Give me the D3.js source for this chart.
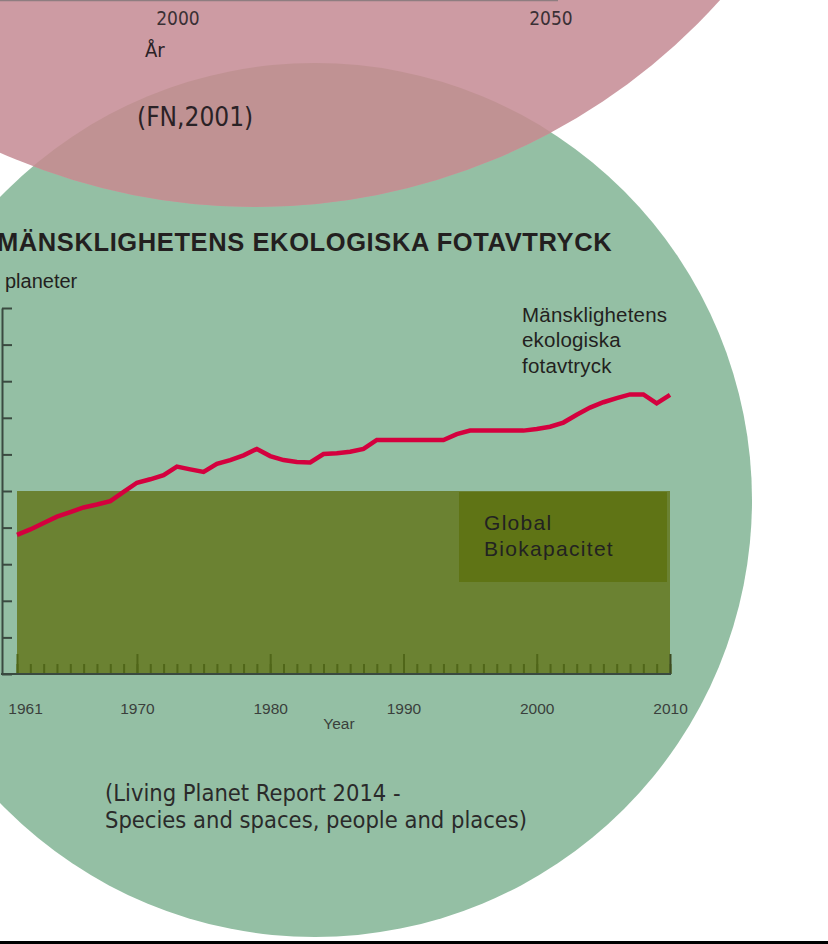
<!DOCTYPE html>
<html>
<head>
<meta charset="utf-8">
<script src="https://cdn.jsdelivr.net/npm/d3@7"></script>
<style>
  body { margin:0; background:#fff; }
  svg { display:block; }
</style>
</head>
<body>
<svg></svg>
<script>
var years = [1961,1962,1963,1964,1965,1966,1967,1968,1969,1970,
             1971,1972,1973,1974,1975,1976,1977,1978,1979,1980,
             1981,1982,1983,1984,1985,1986,1987,1988,1989,1990,
             1991,1992,1993,1994,1995,1996,1997,1998,1999,2000,
             2001,2002,2003,2004,2005,2006,2007,2008,2009,2010];
// antal planeter (ekologiskt fotavtryck)
var footprint = [0.76,0.79,0.825,0.86,0.885,0.91,0.926,0.945,0.995,1.045,
                 1.064,1.086,1.133,1.118,1.104,1.148,1.169,1.195,1.23,1.191,
                 1.169,1.158,1.156,1.202,1.206,1.215,1.23,1.279,1.279,1.279,
                 1.279,1.279,1.279,1.311,1.33,1.33,1.33,1.33,1.33,1.339,
                 1.351,1.374,1.417,1.456,1.485,1.508,1.528,1.528,1.479,1.525];
var biocapacity = 1;
var yTicks = [0,0.2,0.4,0.6,0.8,1,1.2,1.4,1.6,1.8,2];
var xLabels = [1961,1970,1980,1990,2000,2010];
var topLabels = ["2000","2050"];

var screen = {width:828, height:944};

var svg = d3.select('svg')
            .attr('width',screen.width)
            .attr('height',screen.height);

// cirklar i bakgrunden
var green = {cx:315, cy:500, r:437};
var pink = {cx:255, cy:-419, r:626};

svg.append('circle')
   .attr('cx',green.cx).attr('cy',green.cy).attr('r',green.r)
   .attr('fill','#94bfa4');
svg.append('circle')
   .attr('cx',pink.cx).attr('cy',pink.cy).attr('r',pink.r)
   .attr('fill','#cd9ba3');

var defs = svg.append('defs');
defs.append('clipPath').attr('id','pinkClip')
    .append('circle')
    .attr('cx',pink.cx).attr('cy',pink.cy).attr('r',pink.r);
svg.append('circle')
   .attr('cx',green.cx).attr('cy',green.cy).attr('r',green.r)
   .attr('clip-path','url(#pinkClip)')
   .attr('fill','#c09293');

// rester av diagrammet ovanfor
svg.append('line')
   .attr('x1',0).attr('x2',558).attr('y1',0.5).attr('y2',0.5)
   .attr('stroke','#8e7d80').attr('stroke-width',1.5);

var narrow = "'Liberation Sans Narrow','DejaVu Sans Condensed',sans-serif";
var sans = "'Liberation Sans', Arial, sans-serif";
svg.selectAll('.toplabel')
   .data(topLabels)
   .enter()
   .append('text')
   .attr('x',function(d,i){ return [178,551][i]; })
   .attr('y',25)
   .attr('text-anchor','middle')
   .style('font-family',narrow)
   .style('font-size','19px')
   .attr('fill','#3a3035')
   .text(function(d){ return d; });
svg.append('text')
   .attr('x',145).attr('y',57)
   .style('font-family',narrow).style('font-size','20px')
   .attr('fill','#2a2226')
   .text('År');
svg.append('text')
   .attr('x',137).attr('y',126)
   .style('font-family',narrow).style('font-size','26px')
   .attr('fill','#2a2226')
   .text('(FN,2001)');

// skalor
var xScale = d3.scaleLinear()
               .domain([1961,2010])
               .range([17,670]);
var yScale = d3.scaleLinear()
               .domain([0,2])
               .range([674,308]);

// biokapacitet
svg.append('rect')
   .attr('x',xScale(1961))
   .attr('y',yScale(biocapacity))
   .attr('width',xScale(2010)-xScale(1961))
   .attr('height',yScale(0)-yScale(biocapacity))
   .attr('fill','#6b8232');

svg.append('rect')
   .attr('x',459).attr('y',492)
   .attr('width',208).attr('height',90)
   .attr('fill','#5f7415');
svg.selectAll('.biolabel')
   .data(['Global','Biokapacitet'])
   .enter()
   .append('text')
   .attr('x',484)
   .attr('y',function(d,i){ return 530+i*26; })
   .style('font-family',sans)
   .style('font-size','21px')
   .style('letter-spacing','1.3px')
   .attr('fill','#222')
   .text(function(d){ return d; });

// x-axelns streck inne i rutan
var minorAxis = d3.axisTop(xScale)
                  .tickValues(years)
                  .tickSize(10)
                  .tickSizeOuter(0)
                  .tickFormat('');
var gMinor = svg.append('g')
                .attr('transform','translate(0,674)')
                .call(minorAxis);
var majorAxis = d3.axisTop(xScale)
                  .tickValues(xLabels)
                  .tickSize(20)
                  .tickSizeOuter(0)
                  .tickFormat('');
var gMajor = svg.append('g')
                .attr('transform','translate(0,674)')
                .call(majorAxis);
svg.selectAll('g path.domain').remove();
gMinor.selectAll('line').attr('stroke','#506619').attr('stroke-width',2);
gMajor.selectAll('line').attr('stroke','#506619').attr('stroke-width',2);
gMajor.selectAll('.tick').filter(function(d){ return d==2010; })
      .select('line').attr('stroke','#3d4a22');

var labelAxis = d3.axisBottom(xScale)
                  .tickValues(xLabels)
                  .tickSize(0)
                  .tickPadding(29)
                  .tickFormat(d3.format('d'));
var gLab = svg.append('g')
              .attr('transform','translate(0,674)')
              .call(labelAxis);
gLab.select('path.domain').remove();
gLab.selectAll('text')
    .style('font-family',sans)
    .style('font-size','15.5px')
    .attr('fill','#3a3f3c');
gLab.selectAll('.tick').filter(function(d){ return d==1961; })
    .select('text').attr('x',8);

svg.append('text')
   .attr('x',339).attr('y',729)
   .attr('text-anchor','middle')
   .style('font-family',sans)
   .style('font-size','15.5px')
   .attr('fill','#3a3f3c')
   .text('Year');

// y-axel
var yAxis = d3.axisRight(yScale)
              .tickValues(yTicks)
              .tickSize(10)
              .tickSizeOuter(0)
              .tickFormat('');
var gY = svg.append('g')
            .attr('transform','translate(2,0)')
            .call(yAxis);
gY.select('path.domain').attr('stroke','#3a4a40').attr('stroke-width',2);
gY.selectAll('line').attr('stroke','#3a4a40').attr('stroke-width',2);

svg.append('line')
   .attr('x1',1).attr('x2',xScale(2010)+1)
   .attr('y1',yScale(0)).attr('y2',yScale(0))
   .attr('stroke','#3a4a40').attr('stroke-width',2);

// fotavtryck
var line = d3.line()
             .x(function(d,i){ return xScale(years[i]); })
             .y(function(d){ return yScale(d); });
svg.append('path')
   .datum(footprint)
   .attr('d',line)
   .attr('fill','none')
   .attr('stroke','#d4003e')
   .attr('stroke-width',4.5)
   .attr('stroke-linejoin','miter');

// rubriker
svg.append('text')
   .attr('x',-3).attr('y',251)
   .style('font-family',sans)
   .style('font-size','25.5px')
   .style('font-weight','bold')
   .style('letter-spacing','0.6px')
   .attr('fill','#231f20')
   .text('MÄNSKLIGHETENS EKOLOGISKA FOTAVTRYCK');
svg.append('text')
   .attr('x',5).attr('y',288)
   .style('font-family',sans)
   .style('font-size','20px')
   .attr('fill','#231f20')
   .text('planeter');

var lineLabel = ['Mänsklighetens','ekologiska','fotavtryck'];
svg.selectAll('.linelabel')
   .data(lineLabel)
   .enter()
   .append('text')
   .attr('x',522)
   .attr('y',function(d,i){ return 321.5+i*25.5; })
   .style('font-family',sans)
   .style('font-size','20.5px')
   .style('letter-spacing','0.2px')
   .attr('fill','#231f20')
   .text(function(d){ return d; });

var source = ['(Living Planet Report 2014 -','Species and spaces, people and places)'];
svg.selectAll('.source')
   .data(source)
   .enter()
   .append('text')
   .attr('x',105)
   .attr('y',function(d,i){ return 801+i*27; })
   .style('font-family',narrow)
   .style('font-size','23.5px')
   .attr('fill','#2a2a2a')
   .text(function(d){ return d; });

// svart kant nederst
svg.append('rect')
   .attr('x',0).attr('y',941)
   .attr('width',screen.width).attr('height',3)
   .attr('fill','#000');
</script>
</body>
</html>
